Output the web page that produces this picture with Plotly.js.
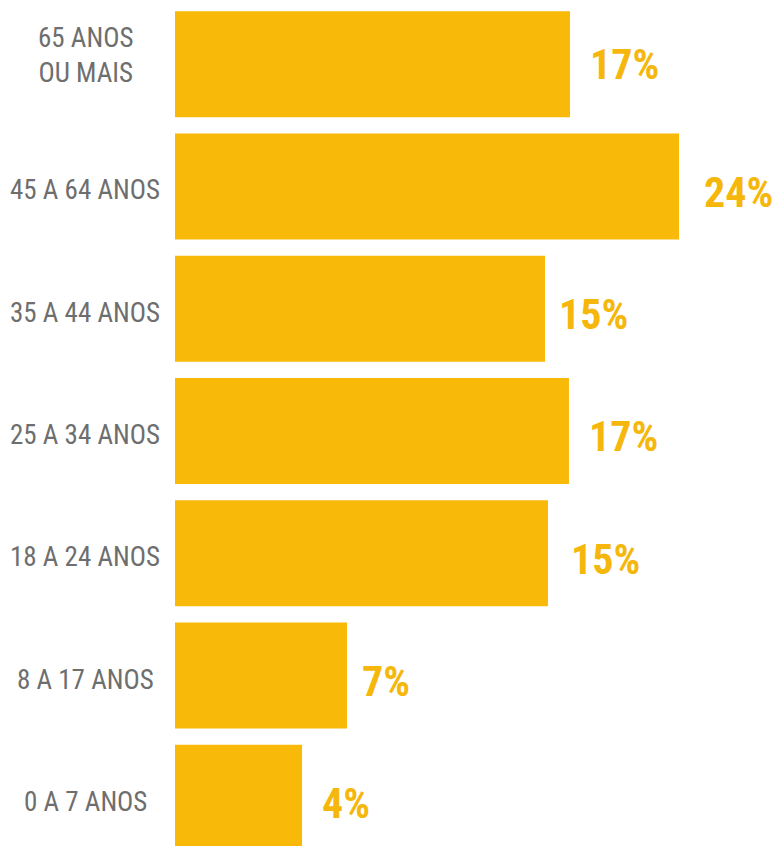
<!DOCTYPE html>
<html>
<head>
<meta charset="utf-8">
<script src="https://cdn.plot.ly/plotly-3.0.1.min.js"></script>
<style>html,body{margin:0;padding:0;background:#fff;}#chart{width:779px;height:846px;}</style>
</head>
<body>
<div id="chart"></div>
<script>
// Age groups, bottom to top
const categories = ["0 A 7 ANOS", "8 A 17 ANOS", "18 A 24 ANOS", "25 A 34 ANOS", "35 A 44 ANOS", "45 A 64 ANOS", "65 ANOS<br>OU MAIS"];
// Bar lengths as drawn in the picture (estimated)
const barValues = [6.05, 8.19, 17.76, 18.76, 17.62, 24.0, 18.81];
// Printed percentage labels
const pctLabels = ["4%", "7%", "15%", "17%", "15%", "24%", "17%"];

const barColor = "#F9B908";
const labelColor = "#F6B70C";
const grayText = "#6E6E6E";
const narrow = "'Liberation Sans Narrow', 'Roboto Condensed', 'DejaVu Sans Condensed', Roboto, sans-serif";

const plotLeft = 175, plotRight = 779;
const plotW = plotRight - plotLeft;
// label offsets from bar end (layout only)
const labelXShift = [18, 13, 21, 18, 12, 23, 18];

const annotations = [];
categories.forEach((c, i) => {
  annotations.push({
    xref: "paper", yref: "y",
    x: (85 - plotLeft) / plotW, y: i,
    text: c, showarrow: false,
    xanchor: "center", yanchor: "middle",
    align: "center",
    yshift: i === 6 ? 9 : -4,
    font: {family: narrow, size: 27, color: grayText}
  });
  annotations.push({
    xref: "x", yref: "y",
    x: barValues[i], y: i,
    text: "<b>" + pctLabels[i] + "</b>",
    showarrow: false,
    xanchor: "left", yanchor: "middle",
    xshift: labelXShift[i], yshift: i === 6 ? 0 : -6,
    font: {family: narrow, size: 42, color: labelColor}
  });
});

const data = [{
  type: "bar",
  orientation: "h",
  y: categories.map((c, i) => i),
  x: barValues,
  marker: {color: barColor},
  hoverinfo: "none"
}];

const layout = {
  width: 779, height: 846,
  margin: {l: plotLeft, r: 779 - plotRight, t: 3, b: 0, pad: 0},
  paper_bgcolor: "#fff", plot_bgcolor: "#fff",
  bargap: 0.133,
  showlegend: false,
  xaxis: {range: [0, plotW / 21], visible: false, fixedrange: true},
  yaxis: {range: [-0.394, 6.5], visible: false, fixedrange: true},
  annotations: annotations
};

Plotly.newPlot("chart", data, layout, {displayModeBar: false, staticPlot: true});
</script>
</body>
</html>
